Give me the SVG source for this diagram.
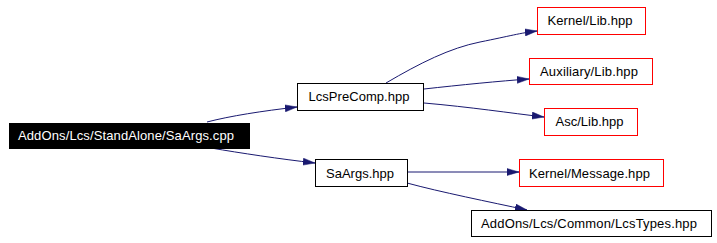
<svg xmlns="http://www.w3.org/2000/svg" width="717" height="243" viewBox="0 0 717 243">
  <style>
    .box { fill: #ffffff; stroke: #000000; stroke-width: 1; }
    .ext { fill: #ffffff; stroke: #ff0000; stroke-width: 1; }
    .root { fill: #000000; stroke: #000000; stroke-width: 1; }
    .lbl { font-family: "Liberation Sans", Arial, sans-serif; font-size: 13px; fill: #000000; text-anchor: middle; }
    .lbl-root { font-family: "Liberation Sans", Arial, sans-serif; font-size: 13px; fill: #ffffff; text-anchor: middle; }
    .edge { fill: none; stroke: #191970; stroke-width: 1; }
  </style>
  <defs>
    <marker id="arrow" markerUnits="userSpaceOnUse" viewBox="0 0 12 8" refX="12" refY="4" markerWidth="12" markerHeight="8" orient="auto">
      <path d="M0,0.5 L12,4 L0,7.5 z" fill="#191970" stroke="#191970" stroke-width="0.5"/>
    </marker>
  </defs>
  <rect width="717" height="243" fill="#ffffff"/>

  <g id="connectors">
    <path class="edge" marker-end="url(#arrow)" d="M207,122 C230,116 262,111 297,107"/>
    <path class="edge" marker-end="url(#arrow)" d="M211,148 C240,153 280,159 315,163"/>
    <path class="edge" marker-end="url(#arrow)" d="M386,83 C420,63 450,48 480,42 S520,33 537,31"/>
    <path class="edge" marker-end="url(#arrow)" d="M424,89 C460,85 500,81 529,79"/>
    <path class="edge" marker-end="url(#arrow)" d="M424,103 C470,107 510,113 544,117"/>
    <path class="edge" marker-end="url(#arrow)" d="M407,172 L519,172"/>
    <path class="edge" marker-end="url(#arrow)" d="M407,183 C440,192 490,202 527,210"/>
  </g>

  <g id="node-saargs-cpp">
    <rect class="root" x="9.5" y="123.5" width="240" height="25"/>
    <text class="lbl-root" x="126" y="140" textLength="216" lengthAdjust="spacing">AddOns/Lcs/StandAlone/SaArgs.cpp</text>
  </g>

  <g id="node-lcsprecomp">
    <rect class="box" x="297.5" y="83.5" width="126" height="27"/>
    <text class="lbl" x="359" y="101" textLength="101" lengthAdjust="spacing">LcsPreComp.hpp</text>
  </g>

  <g id="node-kernel-lib">
    <rect class="ext" x="537.5" y="7.5" width="108" height="27"/>
    <text class="lbl" x="590" y="25" textLength="85" lengthAdjust="spacing">Kernel/Lib.hpp</text>
  </g>

  <g id="node-auxiliary-lib">
    <rect class="ext" x="529.5" y="58.5" width="123" height="26"/>
    <text class="lbl" x="589" y="75.5" textLength="98" lengthAdjust="spacing">Auxiliary/Lib.hpp</text>
  </g>

  <g id="node-asc-lib">
    <rect class="ext" x="544.5" y="108.5" width="93" height="27"/>
    <text class="lbl" x="589.5" y="126" textLength="68" lengthAdjust="spacing">Asc/Lib.hpp</text>
  </g>

  <g id="node-saargs-hpp">
    <rect class="box" x="315.5" y="159.5" width="92" height="27"/>
    <text class="lbl" x="360" y="177.5" textLength="68" lengthAdjust="spacing">SaArgs.hpp</text>
  </g>

  <g id="node-kernel-message">
    <rect class="ext" x="519.5" y="159.5" width="144" height="27"/>
    <text class="lbl" x="589.5" y="177.5" textLength="121" lengthAdjust="spacing">Kernel/Message.hpp</text>
  </g>

  <g id="node-lcstypes">
    <rect class="box" x="471.5" y="210.5" width="240" height="26"/>
    <text class="lbl" x="589" y="228" textLength="216" lengthAdjust="spacing">AddOns/Lcs/Common/LcsTypes.hpp</text>
  </g>
</svg>
